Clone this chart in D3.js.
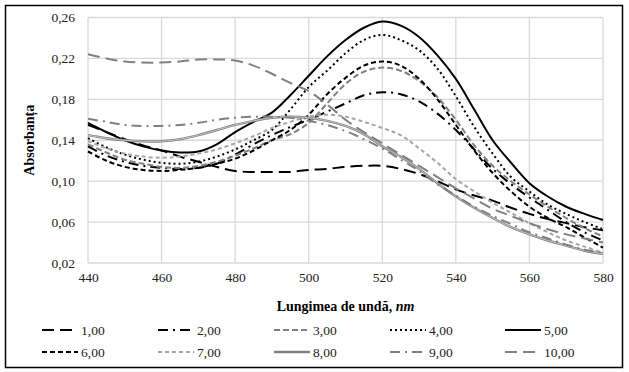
<!DOCTYPE html>
<html>
<head>
<meta charset="utf-8">
<script src="https://cdn.jsdelivr.net/npm/d3@7"></script>
<style>
  body { margin: 0; background: #fff; }
  svg { display: block; font-family: "Liberation Serif", "Times New Roman", serif; }
</style>
</head>
<body>
<svg id="chart" width="629" height="372"></svg>
<script>
// wavelengths, nm
const wavelengths = [440, 445, 450, 455, 460, 465, 470, 475, 480, 485, 490, 495, 500, 505, 510,
  515, 520, 525, 530, 535, 540, 545, 550, 555, 560, 565, 570, 575, 580];

const seriesNames = ["1,00", "2,00", "3,00", "4,00", "5,00", "6,00", "7,00", "8,00", "9,00", "10,00"];

const s1 = [.155, .148, .141, .135, .130, .124, .119, .114, .110, .109, .109, .109, .111, .112, .114,
  .115, .115, .112, .107, .100, .092, .086, .081, .074, .068, .063, .059, .055, .052];
const s2 = [.134, .125, .119, .115, .113, .112, .113, .117, .126, .136, .145, .153, .160, .168, .176,
  .184, .187, .185, .178, .166, .150, .131, .112, .097, .084, .072, .060, .050, .042];
const s3 = [.136, .128, .121, .117, .114, .113, .115, .119, .125, .132, .140, .146, .157, .176, .195,
  .207, .211, .208, .198, .182, .160, .135, .115, .100, .087, .075, .064, .054, .046];
const s4 = [.142, .133, .126, .121, .118, .117, .119, .124, .131, .140, .150, .170, .192, .208, .225,
  .238, .243, .238, .228, .210, .183, .153, .127, .104, .090, .077, .068, .060, .053];
const s5 = [.157, .148, .140, .134, .130, .128, .129, .136, .148, .158, .167, .184, .203, .222, .238,
  .250, .256, .252, .241, .223, .200, .170, .140, .118, .098, .085, .075, .068, .062];
const s6 = [.129, .120, .114, .111, .110, .111, .113, .117, .122, .130, .140, .150, .165, .185, .201,
  .213, .217, .213, .200, .180, .155, .130, .108, .090, .075, .064, .055, .045, .035];
const s7 = [.139, .132, .127, .124, .123, .124, .127, .131, .137, .144, .152, .158, .163, .165, .163,
  .158, .152, .145, .132, .118, .102, .090, .079, .069, .059, .050, .042, .036, .030];
const s8 = [.145, .142, .140, .139, .139, .141, .145, .150, .155, .159, .162, .163, .162, .159, .154,
  .146, .134, .124, .112, .098, .085, .074, .064, .055, .048, .042, .037, .032, .029];
const s9 = [.161, .158, .155, .154, .154, .155, .157, .160, .162, .163, .163, .162, .159, .155, .149,
  .141, .132, .121, .110, .097, .086, .075, .066, .058, .050, .044, .038, .033, .030];
const s10 = [.224, .220, .217, .216, .216, .217, .219, .219, .218, .213, .205, .196, .188, .175, .160,
  .148, .137, .126, .115, .104, .093, .083, .073, .066, .059, .053, .048, .044, .040];

const xTicks = [440, 460, 480, 500, 520, 540, 560, 580];
const yTicks = [0.02, 0.06, 0.10, 0.14, 0.18, 0.22, 0.26];

const allSeries = [s1, s2, s3, s4, s5, s6, s7, s8, s9, s10];

// line styles per series
const styles = [
  { color: "#000", dash: "12,6", w: 2 },
  { color: "#000", dash: "10,5,2,5", w: 2 },
  { color: "#808080", dash: "6,3", w: 2 },
  { color: "#000", dash: "2,3", w: 2 },
  { color: "#000", dash: null, w: 2 },
  { color: "#000", dash: "5,3", w: 2 },
  { color: "#a6a6a6", dash: "4,3", w: 2 },
  { color: "#808080", dash: null, w: 2.4, dbl: true },
  { color: "#808080", dash: "10,5,2,5", w: 2 },
  { color: "#808080", dash: "12,6", w: 2 }
];

const svg = d3.select("#chart");
const mLeft = 88, mRight = 603, mTop = 17.5, mBottom = 263;

const locale = d3.formatLocale({ decimal: ",", thousands: ".", grouping: [3], currency: ["", ""] });
const fmt = locale.format(".2f");

const x = d3.scaleLinear().domain([440, 580]).range([mLeft, mRight]);
const y = d3.scaleLinear().domain([0.02, 0.26]).range([mBottom, mTop]);

// outer frame
svg.append("rect").attr("x", 5.5).attr("y", 5.5).attr("width", 617).attr("height", 362)
  .attr("fill", "#fff").attr("stroke", "#000").attr("stroke-width", 1.5);

// grid
const grid = svg.append("g").attr("stroke", "#d9d9d9").attr("stroke-width", 1.3);
grid.selectAll("line.h").data(yTicks).enter().append("line")
  .attr("x1", mLeft).attr("x2", mRight).attr("y1", d => y(d)).attr("y2", d => y(d));
grid.selectAll("line.v").data(xTicks).enter().append("line")
  .attr("y1", mTop).attr("y2", mBottom).attr("x1", d => x(d)).attr("x2", d => x(d));

// axes
const yAxis = svg.append("g").attr("transform", `translate(${mLeft},0)`)
  .call(d3.axisLeft(y).tickValues(yTicks).tickFormat(fmt).tickSize(0).tickPadding(13));
yAxis.select(".domain").remove();
yAxis.selectAll("text").attr("font-size", "13.5px").attr("font-family", "Liberation Serif").attr("fill", "#222");

const xAxis = svg.append("g").attr("transform", `translate(0,${mBottom})`)
  .call(d3.axisBottom(x).tickValues(xTicks).tickFormat(d3.format("d")).tickSize(0).tickPadding(9));
xAxis.select(".domain").remove();
xAxis.selectAll("text").attr("font-size", "13.5px").attr("font-family", "Liberation Serif").attr("fill", "#222");

// lines
const line = d3.line()
  .x((d, i) => x(wavelengths[i]))
  .y(d => y(d))
  .curve(d3.curveCatmullRom);

const plot = svg.append("g");
allSeries.forEach((data, i) => {
  const st = styles[i];
  const p = plot.append("path").datum(data)
    .attr("d", line).attr("fill", "none")
    .attr("stroke", st.color).attr("stroke-width", st.w);
  if (st.dash) p.attr("stroke-dasharray", st.dash);
  if (st.dbl) {
    plot.append("path").datum(data).attr("d", line).attr("fill", "none")
      .attr("stroke", "#e0e0e0").attr("stroke-width", 0.7);
  }
});

// axis titles
svg.append("text").attr("transform", `translate(34,${(mTop + mBottom) / 2}) rotate(-90)`)
  .attr("text-anchor", "middle").attr("font-weight", "bold").attr("font-size", "14px")
  .text("Absorbanța");

const xt = svg.append("text").attr("x", (mLeft + mRight) / 2).attr("y", 311)
  .attr("text-anchor", "middle").attr("font-weight", "bold").attr("font-size", "14px");
xt.append("tspan").text("Lungimea de undă, ");
xt.append("tspan").attr("font-style", "italic").text("nm");

// legend
const colX = [42, 158, 274, 390, 505];
const rowY = [330, 352];
const legend = svg.append("g");
seriesNames.forEach((name, i) => {
  const st = styles[i];
  const gx = colX[i % 5], gy = rowY[Math.floor(i / 5)];
  const l = legend.append("line").attr("x1", gx).attr("x2", gx + 36).attr("y1", gy).attr("y2", gy)
    .attr("stroke", st.color).attr("stroke-width", st.w);
  if (st.dash) l.attr("stroke-dasharray", st.dash);
  legend.append("text").attr("x", gx + 39).attr("y", gy + 4.5)
    .attr("font-size", "13.5px").attr("fill", "#222").text(name);
});
</script>
</body>
</html>
